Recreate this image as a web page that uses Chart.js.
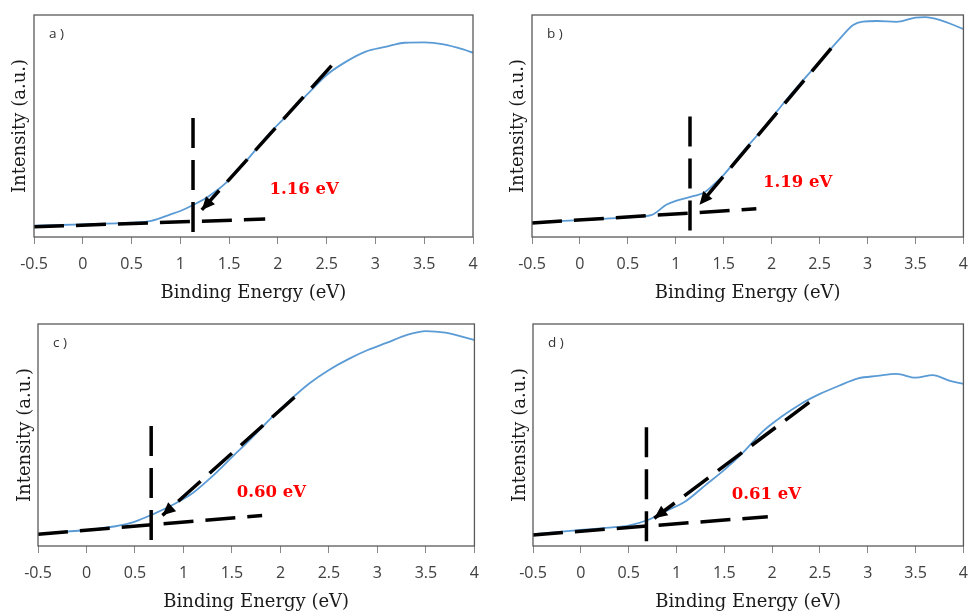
<!DOCTYPE html>
<html><head><meta charset="utf-8">
<script src="https://cdn.jsdelivr.net/npm/chart.js@4.4.1/dist/chart.umd.min.js"></script>
<style>
html,body{margin:0;padding:0;background:#fff;}
#wrap{position:relative;width:979px;height:614px;overflow:hidden;}
.panel{position:absolute;}
</style></head><body>
<div id="wrap">
<div class="panel" style="left:0px;top:0px;width:490px;height:307px"><canvas id="ca"></canvas></div>
<div class="panel" style="left:490px;top:0px;width:489px;height:307px"><canvas id="cb"></canvas></div>
<div class="panel" style="left:0px;top:307px;width:490px;height:307px"><canvas id="cc"></canvas></div>
<div class="panel" style="left:490px;top:307px;width:489px;height:307px"><canvas id="cd"></canvas></div>
</div>
<script>
// ---- shared axis ticks ----
const xTickValues = [-0.5, 0, 0.5, 1, 1.5, 2, 2.5, 3, 3.5, 4];
const xAxisTitle = 'Binding Energy (eV)';
const yAxisTitle = 'Intensity (a.u.)';

// ---- panel a ----
const energyA    = [-0.5, 0, 0.5, 0.7, 0.9, 1.0, 1.13, 1.3, 1.5, 1.7, 1.9, 2.1, 2.3, 2.5, 2.7, 2.9, 3.1, 3.3, 3.5, 3.7, 3.9, 4.0];
const intensityA = [5.1, 5.7, 6.5, 7.3, 10.2, 11.7, 14.4, 18.6, 25.6, 35.5, 46, 55, 64.2, 73, 79, 83.5, 85.6, 87.5, 87.7, 86.8, 84.5, 83];
const tangentXA  = [2.55, 1.22];
const tangentYA  = [77.2, 12.2];
const baseXA     = [-0.5, 1.87];
const baseYA     = [4.6, 8.1];
const onsetXA    = [1.13, 1.13];
const onsetYA    = [53.6, 0];
const labelA     = '1.16 eV';
const labelAtA   = [2.27, 21.2];

// ---- panel b ----
const energyB    = [-0.5, 0, 0.5, 0.75, 0.9, 1.0, 1.2, 1.3, 1.4, 1.5, 1.7, 1.9, 2.1, 2.3, 2.5, 2.7, 2.85, 2.95, 3.1, 3.3, 3.5, 3.6, 3.75, 4.0];
const intensityB = [6.6, 7.6, 8.8, 10.0, 14.5, 16.3, 18.6, 20.2, 23.8, 28, 38.5, 48.3, 59, 69.3, 79, 88.8, 95.5, 97, 97.3, 96.9, 98.8, 99, 97.8, 93.7];
const tangentXB  = [2.62, 1.247];
const tangentYB  = [85, 14.5];
const baseXB     = [-0.5, 1.84];
const baseYB     = [6.3, 12.7];
const onsetXB    = [1.148, 1.148];
const onsetYB    = [54.3, 0];
const labelB     = '1.19 eV';
const labelAtB   = [2.27, 24.6];

// ---- panel c ----
const energyC    = [-0.5, -0.2, 0, 0.3, 0.5, 0.7, 0.9, 1.1, 1.3, 1.5, 1.7, 1.9, 2.1, 2.3, 2.5, 2.7, 2.9, 3.1, 3.3, 3.5, 3.7, 3.9, 4.0];
const intensityC = [5.3, 6.5, 7.2, 8.9, 11, 14.6, 18.8, 24, 31.5, 40, 48.5, 57.5, 65.8, 73.3, 79.3, 84.2, 88.3, 91.6, 95, 96.8, 96.1, 94, 92.8];
const tangentXC  = [2.145, 0.783];
const tangentYC  = [67, 13.8];
const baseXC     = [-0.5, 1.811];
const baseYC     = [5.3, 13.7];
const onsetXC    = [0.667, 0.667];
const onsetYC    = [54, 0];
const labelC     = '0.60 eV';
const labelAtC   = [1.906, 24.2];

// ---- panel d ----
const energyD    = [-0.5, -0.2, 0, 0.3, 0.5, 0.7, 0.9, 1.1, 1.3, 1.5, 1.7, 1.9, 2.1, 2.3, 2.5, 2.7, 2.9, 3.1, 3.3, 3.5, 3.68, 3.85, 4.0];
const intensityD = [5.3, 6.5, 7.2, 8.3, 9.2, 11.7, 15.9, 20.3, 27.3, 34.3, 42.3, 51.5, 58.3, 64, 68.5, 72.2, 75.5, 76.6, 77.5, 75.8, 77, 74.5, 73];
const tangentXD  = [2.388, 0.768];
const tangentYD  = [64.7, 12.5];
const baseXD     = [-0.5, 1.955];
const baseYD     = [5, 13.2];
const onsetXD    = [0.686, 0.686];
const onsetYD    = [53.5, 0];
const labelD     = '0.61 eV';
const labelAtD   = [1.94, 23];

function pts(xs, ys) { return xs.map((x, i) => ({x: x, y: ys[i]})); }

const decorPlugin = {
  id: 'decor',
  afterDatasetsDraw(chart, args, opts) {
    const ctx = chart.ctx;
    const {left, top, right, bottom} = chart.chartArea;
    const xs = chart.scales.x, ys = chart.scales.y;
    chart.data.datasets.forEach((ds, i) => {
      if (!ds.arrowHead) return;
      const el = chart.getDatasetMeta(i).data;
      const p1 = el[el.length - 2], p2 = el[el.length - 1];
      const ang = Math.atan2(p2.y - p1.y, p2.x - p1.x);
      const len = 13, hw = 6;
      ctx.save();
      ctx.translate(p2.x, p2.y);
      ctx.rotate(ang);
      ctx.beginPath();
      ctx.moveTo(0, 0); ctx.lineTo(-len, -hw); ctx.lineTo(-len, hw); ctx.closePath();
      ctx.fillStyle = '#000';
      ctx.fill();
      ctx.restore();
    });
    ctx.save();
    ctx.strokeStyle = '#595959';
    ctx.lineWidth = 1.3;
    ctx.strokeRect(left, top, right - left, bottom - top);
    ctx.font = '13.5px "Open Sans"';
    ctx.fillStyle = '#333';
    ctx.textBaseline = 'middle';
    ctx.textAlign = 'left';
    ctx.fillText(opts.letter, left + 15, top + 19);
    ctx.font = 'bold 16.5px "DejaVu Serif"';
    ctx.fillStyle = '#ff0000';
    ctx.textAlign = 'center';
    ctx.fillText(opts.label, xs.getPixelForValue(opts.at[0]), ys.getPixelForValue(opts.at[1]));
    ctx.restore();
  }
};

function makeChart(id, letter, ex, iy, tx, ty, bx, by, ox, oy, label, labelAt, geo) {
  const dash = {borderColor: '#000', borderWidth: 3.5, borderDash: [30, 12], pointRadius: 0, showLine: true, fill: false, order: 1};
  new Chart(document.getElementById(id), {
    type: 'scatter',
    data: {
      datasets: [
        Object.assign({data: pts(tx, ty), arrowHead: true}, dash),
        Object.assign({data: pts(bx, by)}, dash),
        Object.assign({data: pts(ox, oy)}, dash),
        {data: pts(ex, iy), borderColor: '#5B9BD5', borderWidth: 1.8, pointRadius: 0, showLine: true,
         cubicInterpolationMode: 'monotone', fill: false, order: 2}
      ]
    },
    options: {
      responsive: true, maintainAspectRatio: false, animation: false,
      layout: {padding: {top: geo.T, right: geo.W - geo.R, left: 0, bottom: 0}},
      plugins: {legend: {display: false}, tooltip: {enabled: false},
        decor: {letter: letter, label: label, at: labelAt}},
      scales: {
        x: {
          type: 'linear', min: -0.5, max: 4,
          afterBuildTicks: s => { s.ticks = xTickValues.map(v => ({value: v})); },
          afterFit: s => { s.height = geo.H - geo.B; },
          ticks: {callback: v => String(v), font: {family: 'Open Sans', size: 16}, color: '#404040', padding: 11, maxRotation: 0, autoSkip: false},
          grid: {drawOnChartArea: false, drawTicks: true, tickLength: 7, color: '#888'},
          border: {display: false},
          title: {display: true, text: xAxisTitle, font: {family: 'DejaVu Serif', size: 18}, color: '#1a1a1a',
                  padding: {top: 0, bottom: geo.xtb}}
        },
        y: {
          type: 'linear', min: 0, max: 100,
          afterFit: s => { s.width = geo.L; },
          ticks: {display: false},
          grid: {display: false},
          border: {display: false},
          title: {display: true, text: yAxisTitle, font: {family: 'DejaVu Serif', size: 18}, color: '#1a1a1a',
                  padding: {top: geo.ytx - 10.8, bottom: 0}}
        }
      }
    },
    plugins: [decorPlugin]
  });
}

makeChart('ca', 'a )', energyA, intensityA, tangentXA, tangentYA, baseXA, baseYA, onsetXA, onsetYA, labelA, labelAtA,
  {L: 34, R: 473, T: 15, B: 237, W: 490, H: 307, ytx: 20, xtb: 3.2});
makeChart('cb', 'b )', energyB, intensityB, tangentXB, tangentYB, baseXB, baseYB, onsetXB, onsetYB, labelB, labelAtB,
  {L: 42, R: 481, T: 15, B: 237, W: 489, H: 307, ytx: 28, xtb: 3.2});
makeChart('cc', 'c )', energyC, intensityC, tangentXC, tangentYC, baseXC, baseYC, onsetXC, onsetYC, labelC, labelAtC,
  {L: 38, R: 478, T: 17, B: 239, W: 490, H: 307, ytx: 25, xtb: 1.2});
makeChart('cd', 'd )', energyD, intensityD, tangentXD, tangentYD, baseXD, baseYD, onsetXD, onsetYD, labelD, labelAtD,
  {L: 43, R: 483, T: 17, B: 239, W: 489, H: 307, ytx: 30, xtb: 1.2});
</script>
</body></html>
